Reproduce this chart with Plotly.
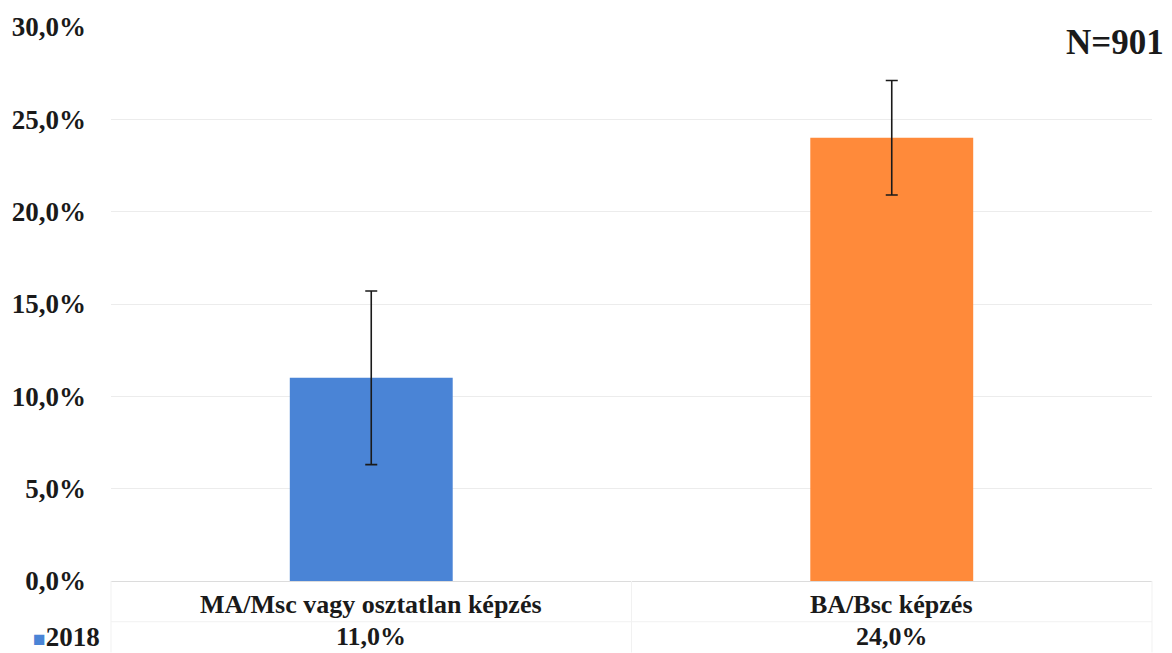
import plotly.graph_objects as go

categories = ["MA/Msc vagy osztatlan képzés", "BA/Bsc képzés"]
values = [11.0, 24.0]
errors = [4.7, 3.1]
value_labels = ["11,0%", "24,0%"]
series_name = "2018"
colors = ["#4a84d6", "#ff8a3a"]
y_ticks = [0, 5, 10, 15, 20, 25, 30]
y_tick_labels = ["0,0%", "5,0%", "10,0%", "15,0%", "20,0%", "25,0%", "30,0%"]
note = "N=901"

FONT = "Liberation Serif"
W, H = 1172, 653
ML, MR, MT, MB = 110, 20, 23, 72
PW, PH = W - ML - MR, H - MT - MB


def py(pix):
    """pixel row (from top) -> paper y"""
    return (H - MB - pix) / PH


def px(pix):
    """pixel column (from left) -> paper x"""
    return (pix - ML) / PW


fig = go.Figure()
fig.add_trace(go.Bar(
    x=categories, y=values, name=series_name,
    marker=dict(color=colors, line=dict(width=0)),
    error_y=dict(type="data", array=errors, visible=True, color="#1a1a1a",
                 thickness=1.6, width=6),
    showlegend=False,
))

fig.update_layout(
    width=W, height=H,
    margin=dict(l=ML, r=MR, t=MT, b=MB),
    paper_bgcolor="white", plot_bgcolor="white",
    bargap=0.687,
    font=dict(family=FONT, color="#1a1a1a"),
    xaxis=dict(showticklabels=False, showgrid=False, zeroline=False,
               showline=False, range=[-0.5, 1.5]),
    yaxis=dict(range=[0, 30], tickvals=y_ticks, ticktext=y_tick_labels,
               showgrid=True, gridcolor="#ececec", gridwidth=1,
               zeroline=True, zerolinecolor="#dcdcdc", zerolinewidth=1,
               showline=False, ticks="", ticklabelstandoff=24,
               tickfont=dict(family=FONT, size=27, color="#1a1a1a", weight="bold")),
)

# data-table style rows beneath the axis
for i, (cat, lab) in enumerate(zip(categories, value_labels)):
    fig.add_annotation(x=i, y=py(605), xref="x", yref="paper", text=cat,
                       showarrow=False, yanchor="middle",
                       font=dict(family=FONT, size=26, color="#1a1a1a", weight="bold"))
    fig.add_annotation(x=i, y=py(637), xref="x", yref="paper", text=lab,
                       showarrow=False, yanchor="middle",
                       font=dict(family=FONT, size=26, color="#1a1a1a", weight="bold"))

fig.add_annotation(x=px(30), y=py(637), xref="paper", yref="paper",
                   xanchor="left", yanchor="middle", showarrow=False,
                   text=f"<span style='color:{colors[0]};font-size:21px'>■</span>{series_name}",
                   font=dict(family=FONT, size=27, color="#1a1a1a", weight="bold"))

fig.add_annotation(x=px(1166), y=py(39), xref="paper", yref="paper",
                   xanchor="right", yanchor="middle", showarrow=False, text=note,
                   font=dict(family=FONT, size=35, color="#1a1a1a", weight="bold"))

# faint table grid lines
line_style = dict(color="#f1f1f1", width=1)
fig.add_shape(type="line", xref="paper", yref="paper", x0=0, x1=1, y0=py(622), y1=py(622), line=line_style)
fig.add_shape(type="line", xref="paper", yref="paper", x0=0, x1=0, y0=0, y1=py(653), line=line_style)
fig.add_shape(type="line", xref="paper", yref="paper", x0=0.5, x1=0.5, y0=0, y1=py(653), line=line_style)
fig.add_shape(type="line", xref="paper", yref="paper", x0=1, x1=1, y0=0, y1=py(653), line=line_style)

fig.write_html("out.html",
               config={"displayModeBar": False},
               post_script="document.body.style.margin='0';document.body.style.overflow='hidden';")
